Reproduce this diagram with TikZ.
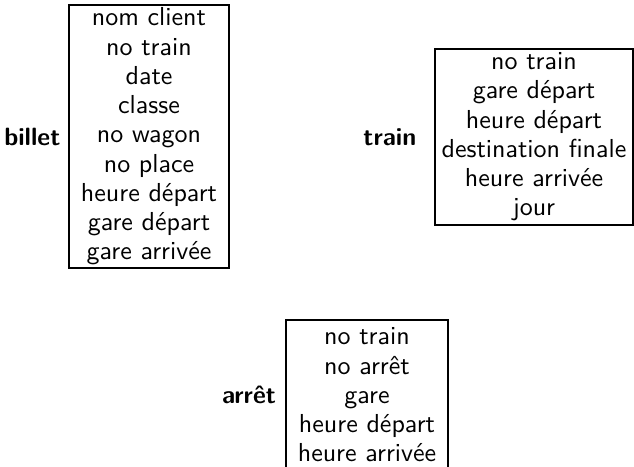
\documentclass[tikz,border=0pt]{standalone}
\usetikzlibrary{positioning}

\begin{document}
\begin{tikzpicture}[
    x=0.4pt, y=-0.4pt,
    entity/.style={draw, line width=0.5pt, align=center, inner sep=0pt, font=\sffamily\fontsize{10.4pt}{11.7pt}\selectfont},
    title/.style={inner sep=0pt, font=\sffamily\bfseries\fontsize{10pt}{12pt}\selectfont},
]
\useasboundingbox (0,0) rectangle (634,467);
\clip (0,0) rectangle (634,467);

% Billet
\node[entity, minimum width=64pt, minimum height=105.2pt] (billet) at (149,136.5)
  {nom client\\no train\\date\\classe\\no wagon\\no place\\heure départ\\gare départ\\gare arrivée};
\node[title, left=3pt of billet] (billetname) {billet};

% Train
\node[entity, minimum width=79.2pt, minimum height=70.4pt] (train) at (534,137)
  {no train\\gare départ\\heure départ\\destination finale\\heure arrivée\\jour};
\node[title, left=7pt of train] (trainname) {train};

% Arret
\node[entity, minimum width=64.8pt, minimum height=60pt] (arret) at (367,395)
  {no train\\no arrêt\\gare\\heure départ\\heure arrivée};
\node[title, left=3.6pt of arret] (arretname) {arrêt};

\end{tikzpicture}
\end{document}
